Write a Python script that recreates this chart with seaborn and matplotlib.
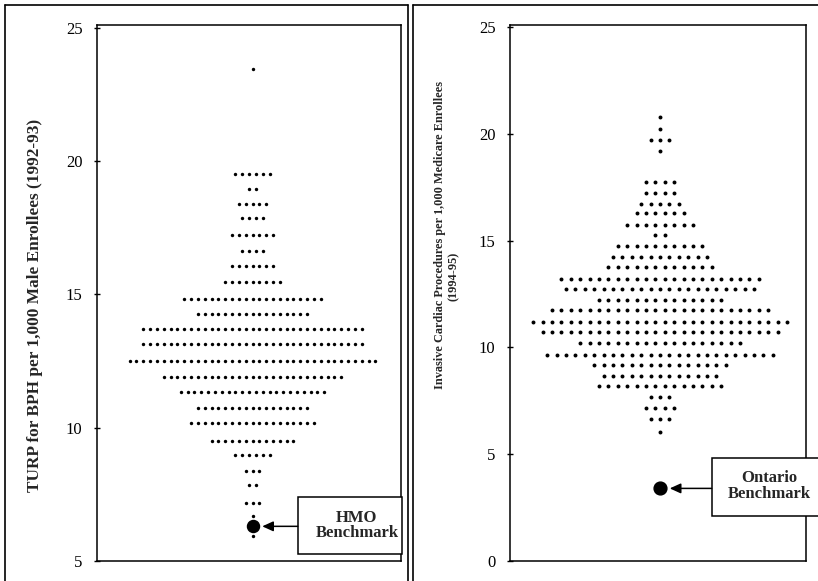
import numpy as np
import pandas as pd
import matplotlib
matplotlib.use("Agg")
import matplotlib.pyplot as plt
from matplotlib.lines import Line2D
from matplotlib.patches import Rectangle
import seaborn as sns

# TURP for BPH per 1,000 male enrollees (1992-93): binned rate and number of areas per bin
turp_rates = [23.45, 19.52, 18.96, 18.40, 17.85, 17.23, 16.62, 16.06, 15.47, 14.84,
              14.27, 13.70, 13.13, 12.51, 11.90, 11.35, 10.75, 10.16, 9.50, 8.96,
              8.39, 7.84, 7.18, 6.67, 5.95]
turp_counts = [1, 6, 2, 5, 4, 7, 4, 7, 9, 21,
               17, 33, 33, 37, 27, 22, 17, 19, 13, 6,
               3, 2, 3, 1, 1]
hmo_benchmark = 6.3

# Invasive cardiac procedures per 1,000 Medicare enrollees (1994-95)
cardiac_rates = [20.80, 20.22, 19.72, 19.21, 17.75, 17.24, 16.71, 16.28, 15.72, 15.26,
                 14.76, 14.22, 13.75, 13.22, 12.74, 12.20, 11.74, 11.21, 10.73, 10.20,
                 9.65, 9.19, 8.66, 8.21, 7.68, 7.18, 6.64, 6.02]
cardiac_counts = [1, 1, 3, 1, 4, 4, 5, 6, 8, 2,
                  10, 11, 12, 22, 21, 14, 24, 28, 26, 18,
                  25, 15, 13, 14, 3, 4, 3, 1]
ontario_benchmark = 3.4

left_ticks = [5, 10, 15, 20, 25]
right_ticks = [0, 5, 10, 15, 20, 25]


def dot_rows(rates, counts):
    """Lay each bin out as a centred horizontal row of dots (one slot per area)."""
    xs, ys = [], []
    for rate, n in zip(rates, counts):
        xs.extend(np.arange(n) - (n - 1) / 2.0)
        ys.extend([rate] * n)
    return pd.DataFrame({"slot": xs, "rate": ys})


sns.set_theme(style="white")
plt.rcParams["font.family"] = ["Liberation Serif", "DejaVu Serif"]
plt.rcParams["axes.edgecolor"] = "black"
plt.rcParams["axes.linewidth"] = 1.1

W, H = 818, 581
fig = plt.figure(figsize=(W / 100, H / 100), dpi=100)
fig.patch.set_facecolor("white")


def fx(px):
    return px / W


def fy(py):
    return 1 - py / H


ax_l = fig.add_axes([fx(97), fy(561), (400.7 - 97) / W, 536 / H])
ax_r = fig.add_axes([fx(510), fy(561), (806 - 510) / W, 536 / H])

# --- left panel -------------------------------------------------------------
df_l = dot_rows(turp_rates, turp_counts)
sns.scatterplot(data=df_l, x="slot", y="rate", ax=ax_l, color="black",
                s=6, linewidth=0, legend=False)
ax_l.scatter([0], [hmo_benchmark], s=75, color="black", zorder=4)
ax_l.set_xlim(-22.77, 21.7)
ax_l.set_ylim(5, 25.1)
ax_l.set_yticks(left_ticks)
ax_l.set_yticklabels([str(t) for t in left_ticks])

# --- right panel ------------------------------------------------------------
df_r = dot_rows(cardiac_rates, cardiac_counts)
sns.scatterplot(data=df_r, x="slot", y="rate", ax=ax_r, color="black",
                s=8, linewidth=0, legend=False)
ax_r.scatter([0], [ontario_benchmark], s=85, color="black", zorder=4)
ax_r.set_xlim(-15.96, 15.53)
ax_r.set_ylim(0, 25.1)
ax_r.set_yticks(right_ticks)
ax_r.set_yticklabels([str(t) for t in right_ticks])

for ax in (ax_l, ax_r):
    ax.set_xticks([])
    ax.set_xlabel("")
    ax.set_ylabel("")
    ax.tick_params(axis="y", direction="inout", length=5, width=1.0,
                   pad=8, labelsize=12, colors="black", left=True)
    for sp in ax.spines.values():
        sp.set_visible(True)
        sp.set_color("black")
        sp.set_linewidth(1.1)

# axis titles
fig.text(fx(35), fy(305), "TURP for BPH per 1,000 Male Enrollees (1992-93)",
         rotation=90, ha="center", va="center", fontsize=12.4, fontweight="bold")
fig.text(fx(440), fy(235), "Invasive Cardiac Procedures per 1,000 Medicare Enrollees",
         rotation=90, ha="center", va="center", fontsize=8.8, fontweight="bold")
fig.text(fx(454), fy(276), "(1994-95)",
         rotation=90, ha="center", va="center", fontsize=8.8, fontweight="bold")


def benchmark_callout(ax, value, label, box, text_xy, linespacing):
    x0, y0, x1, y1 = box
    ax.add_patch(Rectangle((x0, y0), x1 - x0, y1 - y0, transform=ax.transAxes,
                           facecolor="white", edgecolor="black", linewidth=1.1,
                           zorder=5, clip_on=False))
    ax.text(text_xy[0], text_xy[1], label, transform=ax.transAxes, ha="center",
            va="center", fontsize=12, fontweight="bold", linespacing=linespacing,
            zorder=6, clip_on=False)
    ax.annotate("", xy=(0, value), xycoords="data",
                xytext=(x0, value), textcoords=("axes fraction", "data"),
                arrowprops=dict(arrowstyle="-|>,head_length=0.55,head_width=0.25",
                                color="black", lw=1.1, shrinkA=0, shrinkB=7),
                zorder=5)


benchmark_callout(ax_l, hmo_benchmark, "HMO\nBenchmark",
                  (0.661, 0.013, 1.003, 0.12), (0.856, 0.0666), 0.95)
benchmark_callout(ax_r, ontario_benchmark, "Ontario\nBenchmark",
                  (0.681, 0.084, 1.06, 0.1916), (0.877, 0.1407), 1.0)

# panel frames
frame_kw = dict(color="black", linewidth=1.2, transform=fig.transFigure)
for seg in [((4.5, 4.5), (5, 581)), ((4.5, 408), (5, 5)), ((408, 408), (5, 581)),
            ((413, 413), (5, 581)), ((413, 818), (5, 5))]:
    (xa, xb), (ya, yb) = seg
    fig.add_artist(Line2D([fx(xa), fx(xb)], [fy(ya), fy(yb)], **frame_kw))

fig.savefig("out.png", dpi=100, facecolor="white")
